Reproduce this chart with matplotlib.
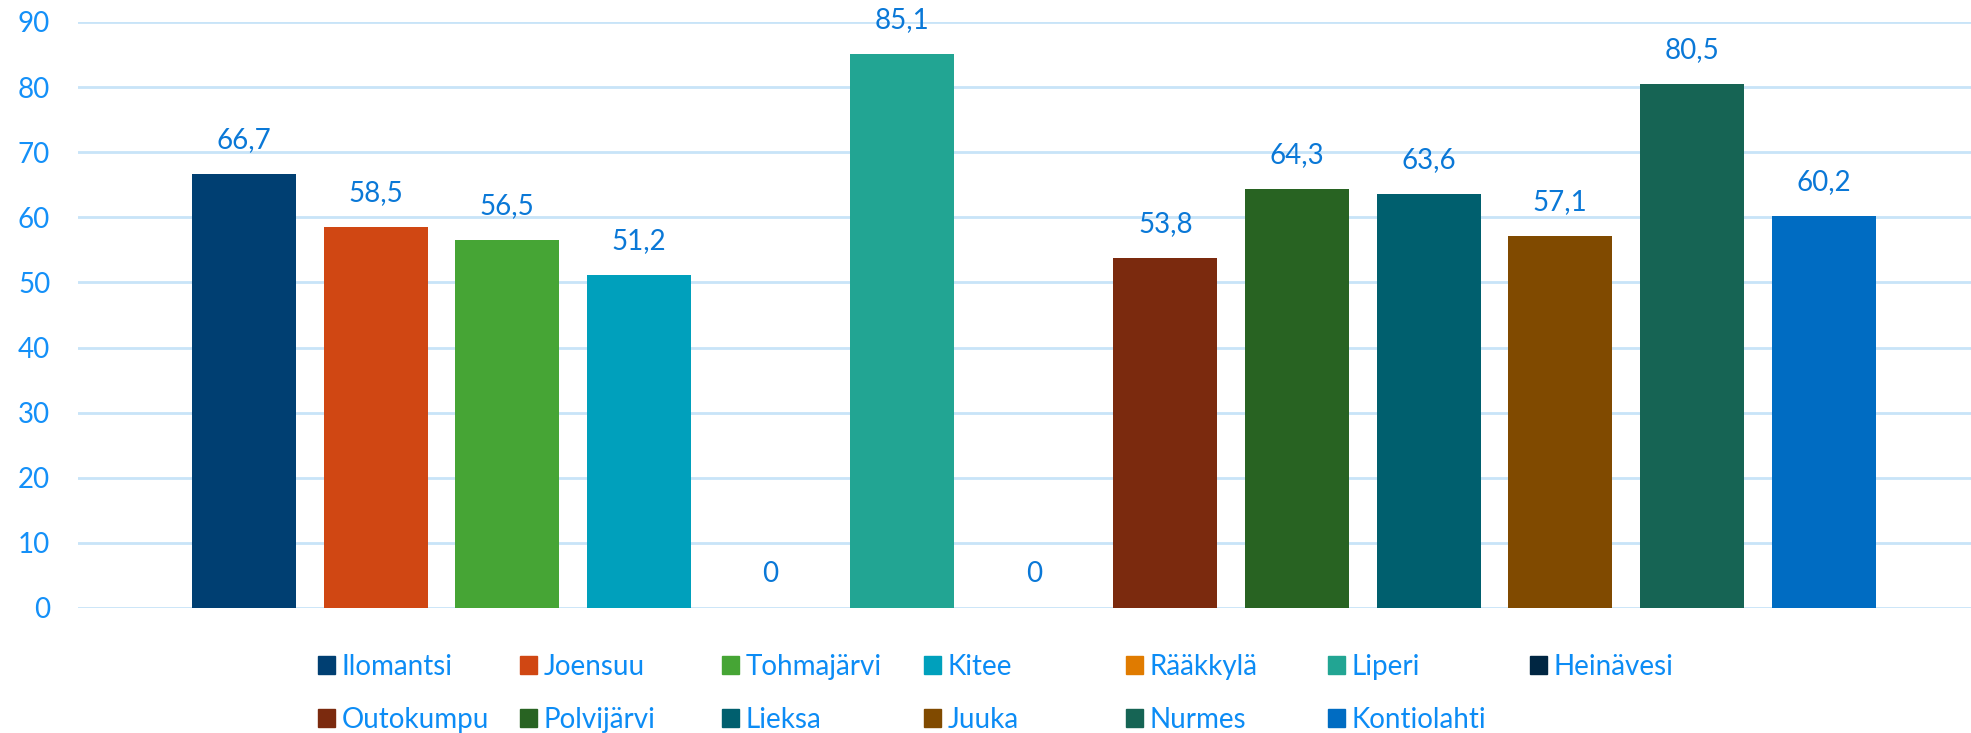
import matplotlib

matplotlib.use("Agg")
import matplotlib.pyplot as plt
from matplotlib.patches import Patch

municipalities = [
    "Ilomantsi", "Joensuu", "Tohmajärvi", "Kitee", "Rääkkylä", "Liperi", "Heinävesi",
    "Outokumpu", "Polvijärvi", "Lieksa", "Juuka", "Nurmes", "Kontiolahti",
]
values = [66.7, 58.5, 56.5, 51.2, 0, 85.1, 0, 53.8, 64.3, 63.6, 57.1, 80.5, 60.2]
colors = [
    "#003F72", "#D04713", "#46A535", "#00A0BC", "#E07B00", "#22A593", "#002642",
    "#7B2A0E", "#286322", "#005F6E", "#804A00", "#166454", "#006CC2",
]
y_ticks = [0, 10, 20, 30, 40, 50, 60, 70, 80, 90]

plt.rcParams["font.family"] = ["Lato", "DejaVu Sans"]

W, H = 1971, 733
fig = plt.figure(figsize=(W / 100, H / 100), dpi=100)
ax = fig.add_axes([78 / W, 1 - 608 / H, 1 - 78 / W, (608 - 22) / H])

x = list(range(len(values)))
bars = ax.bar(x, values, width=0.79, color=colors, zorder=3)
labels = ["0" if v == 0 else f"{v:.1f}".replace(".", ",") for v in values]
ax.bar_label(bars, labels=labels, padding=15, fontsize=20, color="#0A78D7")

ax.set_ylim(0, 90)
ax.set_xlim(-1.26, 13.12)
ax.set_yticks(y_ticks)
ax.set_xticks([])
ax.tick_params(axis="y", length=0, pad=20, labelsize=20, labelcolor="#1490F8")
ax.grid(axis="y", color="#C8E4F8", linewidth=2, zorder=0)
for side in ax.spines.values():
    side.set_visible(False)

# legend: 7 equal-width columns, 2 rows
ncol = 7
col_x0, col_pitch = 318, 202
for c in range(ncol):
    idx = [i for i in range(c, len(municipalities), ncol)]
    handles = [Patch(color=colors[i]) for i in idx]
    fig.legend(
        handles, [municipalities[i] for i in idx],
        loc="upper left", bbox_to_anchor=(col_x0 / W + c * col_pitch / W, 1 - 654 / H),
        frameon=False, fontsize=20, labelcolor="#0C8CF5",
        handlelength=0.6, handleheight=0.6, handletextpad=0.25,
        labelspacing=0.97, borderpad=0, borderaxespad=0,
    )

fig.savefig("out.png", dpi=100)
